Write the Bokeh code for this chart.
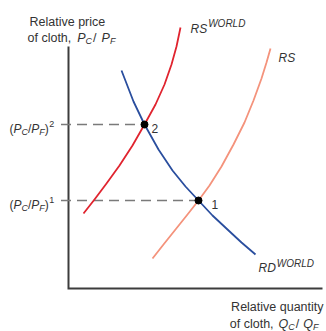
from bokeh.plotting import figure
from bokeh.models import Range1d, Label
from bokeh.embed import file_html
from bokeh.resources import INLINE

# ---- data (relative quantity of cloth Qc/Qf, relative price Pc/Pf), arbitrary units ----
rd_world_q = [2.12, 2.60, 3.04, 3.60, 4.16, 4.68, 5.20, 5.76, 6.36, 6.92, 7.48]
rd_world_p = [8.72, 7.48, 6.56, 5.56, 4.72, 4.08, 3.52, 2.92, 2.36, 1.84, 1.36]
rs_world_q = [0.60, 1.04, 1.52, 2.04, 2.56, 3.04, 3.48, 3.84, 4.12, 4.32, 4.48]
rs_world_p = [3.00, 3.56, 4.20, 4.92, 5.72, 6.56, 7.36, 8.16, 8.96, 9.68, 10.44]
rs_q = [3.36, 3.80, 4.28, 4.76, 5.20, 5.64, 6.12, 6.60, 7.04, 7.40, 7.72, 7.92, 8.08]
rs_p = [1.20, 1.76, 2.36, 2.96, 3.52, 4.12, 4.88, 5.76, 6.64, 7.52, 8.40, 9.04, 9.60]
eq_q = [5.20, 3.04]          # equilibrium 1, 2
eq_p = [3.52, 6.56]
eq_names = ["1", "2"]
eq_levels = ["1", "2"]
axis_q_max = 10.16
axis_p_max = 9.68

TXT = "#333333"
FONT = "Liberation Sans"

W = 326
H = 331
PX = 25.0  # pixels per data unit
p = figure(width=W, height=H, output_backend="svg", toolbar_location=None,
           x_axis_type=None, y_axis_type=None, min_border=0,
           x_range=Range1d(-68 / PX, (W - 68) / PX),
           y_range=Range1d(-(H - 288) / PX, 288 / PX))
p.outline_line_color = None
p.background_fill_color = "white"
p.border_fill_color = "white"

# axes
p.line([0, 0, axis_q_max], [axis_p_max, 0, 0], line_color="#3c3c3c", line_width=2,
       line_join="miter")

# dashed guides
p.segment(x0=[-0.3] * 2, y0=eq_p, x1=eq_q, y1=eq_p, line_color="#7a7a7a",
          line_width=1.6, line_dash="10 6")

# curves
p.line(rs_q, rs_p, line_color="#f4937c", line_width=1.8, line_join="round")
p.line(rs_world_q, rs_world_p, line_color="#e0242f", line_width=1.8, line_join="round")
p.line(rd_world_q, rd_world_p, line_color="#2a4e9e", line_width=1.8, line_join="round")

p.scatter(eq_q, eq_p, size=7, color="black")

# ---- rich text helper (Arial / Liberation Sans metrics) ----
CW = {" ": 278, "(": 333, ")": 333, "/": 278, ",": 278, "P": 667, "C": 722, "F": 611,
      "Q": 778, "R": 722, "S": 667, "D": 722, "W": 944, "O": 778, "L": 556,
      "a": 556, "c": 500, "e": 556, "f": 278, "h": 556, "i": 222, "l": 222, "n": 556,
      "o": 556, "p": 556, "q": 556, "r": 333, "t": 278, "u": 556, "v": 500, "y": 500,
      "1": 556, "2": 556}


def tw(text, size):
    return sum(CW.get(ch, 556) for ch in text) / 1000.0 * size


def rich(xd, yd, runs, ox=0.0, oy=0.0, align="left"):
    """runs: (text, size, style, baseline shift down px, pad before px)"""
    total = sum(tw(t, s) + pad for t, s, st, sh, pad in runs)
    cur = ox - total if align == "right" else ox
    for t, s, st, sh, pad in runs:
        cur += pad
        p.add_layout(Label(x=xd, y=yd, x_offset=cur, y_offset=-(oy + sh), text=t,
                           text_font=FONT, text_font_size=f"{s}px", text_font_style=st,
                           text_color=TXT, text_baseline="alphabetic", text_align="left"))
        cur += tw(t, s)


# y-axis title
rich(0, axis_p_max, [("Relative price", 12.5, "normal", 0, 0)], ox=-39, oy=-25)
rich(0, axis_p_max, [("of cloth,", 12.5, "normal", 0, 0), ("P", 12.5, "italic", 0, 6),
                     ("C", 9, "italic", 3, 0), ("/", 12.5, "normal", 0, 1),
                     ("P", 12.5, "italic", 0, 5), ("F", 9, "italic", 3, 0)],
     ox=-41, oy=-9)

# x-axis title
rich(axis_q_max, 0, [("Relative quantity", 12.5, "normal", 0, 0)], ox=1, oy=18, align="right")
rich(axis_q_max, 0, [("of cloth,", 12.5, "normal", 0, 0), ("Q", 12.5, "italic", 0, 5),
                     ("C", 9, "italic", 3, 0), ("/", 12.5, "normal", 0, 1),
                     ("Q", 12.5, "italic", 0, 4), ("F", 9, "italic", 3, 0)],
     ox=-4, oy=35, align="right")

# price level labels
for lv, yv in zip(eq_levels, eq_p):
    rich(0, yv, [("(", 12, "normal", 0, 0), ("P", 12, "italic", 0, 0),
                 ("C", 9, "italic", 3, 0), ("/", 12, "normal", 0, 0),
                 ("P", 12, "italic", 0, 0), ("F", 9, "italic", 3, 0),
                 (")", 12, "normal", 0, 0), (lv, 9, "normal", -5, 0.5)],
         ox=-59, oy=4)

# equilibrium labels
for nm, xv, yv, dx in zip(eq_names, eq_q, eq_p, [13, 7]):
    rich(xv, yv, [(nm, 12, "normal", 0, 0)], ox=dx, oy=4)

# curve labels
rich(rs_world_q[-1], rs_world_p[-1], [("RS", 12, "italic", 0, 0), ("WORLD", 10, "italic", -5, 1)],
     ox=10, oy=1)
rich(rs_q[-1], rs_p[-1], [("RS", 12, "italic", 0, 0)], ox=8, oy=9)
rich(rd_world_q[-1], rd_world_p[-1], [("RD", 12, "italic", 0, 0), ("WORLD", 10, "italic", -4, 1)],
     ox=3, oy=13)

open("out.html", "w").write(file_html(p, INLINE))
